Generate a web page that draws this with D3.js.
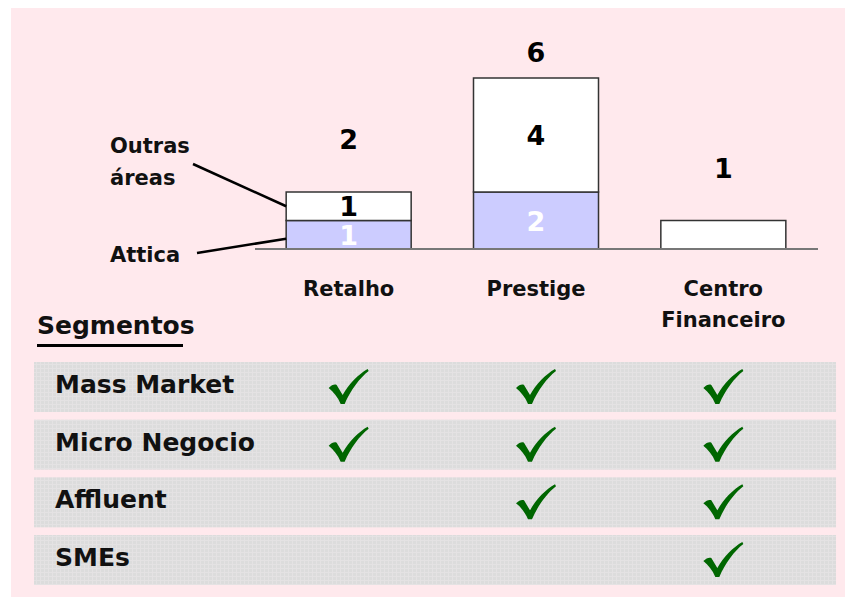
<!DOCTYPE html>
<html><head><meta charset="utf-8">
<script src="https://cdn.jsdelivr.net/npm/d3@7"></script>
<style>html,body{margin:0;padding:0;background:#fff;}svg{display:block;}</style>
</head><body>
<svg id="c" width="845" height="597"></svg>
<script>
const categories = ["Retalho", "Prestige", "Centro Financeiro"];
const attica = [1, 2, 0];
const outras = [1, 4, 1];
const seriesNames = ["Attica", "Outras áreas"];
const segments = ["Mass Market", "Micro Negocio", "Affluent", "SMEs"];
// checks[segment][category]
const checks = [
  [true, true, true],
  [true, true, true],
  [false, true, true],
  [false, false, true]
];

const font = "'DejaVu Sans', Verdana, sans-serif";
const svg = d3.select("#c");
svg.append("rect").attr("x", 11).attr("y", 8).attr("width", 834).attr("height", 589).attr("fill", "#ffe9ed");

const x = d3.scalePoint().domain(categories).range([255, 817]).padding(0.5);
const y = d3.scaleLinear().domain([0, 6]).range([249, 78]);
const barW = 125;

const data = categories.map((c, i) => ({cat: c, a: attica[i], o: outras[i], t: attica[i] + outras[i]}));
const maxT = d3.max(data, d => d.t);

const g = svg.append("g");
// bars
data.forEach(d => {
  const x0 = x(d.cat) - barW / 2;
  if (d.a > 0) {
    g.append("rect").attr("x", x0).attr("y", y(d.a)).attr("width", barW).attr("height", y(0) - y(d.a))
      .attr("fill", "#ccccff").attr("stroke", "#333").attr("stroke-width", 1.5);
  }
  g.append("rect").attr("x", x0).attr("y", y(d.t)).attr("width", barW).attr("height", y(d.a) - y(d.t))
    .attr("fill", "#ffffff").attr("stroke", "#333").attr("stroke-width", 1.5);
});
// baseline
g.append("line").attr("x1", 255).attr("x2", 818).attr("y1", y(0)).attr("y2", y(0))
  .attr("stroke", "#777").attr("stroke-width", 2);

// value labels
data.forEach(d => {
  const cx = x(d.cat);
  const ty = d.t === maxT ? y(d.t) - 16 : y(d.t) - 43;
  g.append("text").attr("x", cx).attr("y", ty).attr("text-anchor", "middle")
    .attr("font-family", font).attr("font-weight", "bold").attr("font-size", 27).attr("fill", "#000").text(d.t);
  if (d.a > 0) {
    g.append("text").attr("x", cx).attr("y", (y(d.a) + y(d.t)) / 2 + 10).attr("text-anchor", "middle")
      .attr("font-family", font).attr("font-weight", "bold").attr("font-size", 27).attr("fill", "#000").text(d.o);
    g.append("text").attr("x", cx).attr("y", (y(0) + y(d.a)) / 2 + 10).attr("text-anchor", "middle")
      .attr("font-family", font).attr("font-weight", "bold").attr("font-size", 27).attr("fill", "#fff").text(d.a);
  }
});

// category labels
categories.forEach(c => {
  const words = c.split(" ");
  const t = g.append("text").attr("x", x(c)).attr("y", 296).attr("text-anchor", "middle")
    .attr("font-family", font).attr("font-weight", "bold").attr("font-size", 21).attr("fill", "#111");
  words.forEach((w, i) => t.append("tspan").attr("x", x(c)).attr("dy", i === 0 ? 0 : 31).text(w));
});

// legend callouts
const r0 = data[0];
const lx = x(r0.cat) - barW / 2;
const lt = g.append("text").attr("x", 110).attr("y", 153).attr("font-family", font).attr("font-weight", "bold")
  .attr("font-size", 21).attr("fill", "#111");
seriesNames[1].split(" ").forEach((w, i) => lt.append("tspan").attr("x", 110).attr("dy", i === 0 ? 0 : 32).text(w));
g.append("text").attr("x", 110).attr("y", 262).attr("font-family", font).attr("font-weight", "bold")
  .attr("font-size", 21).attr("fill", "#111").text(seriesNames[0]);
g.append("line").attr("x1", 193).attr("y1", 164).attr("x2", lx).attr("y2", (y(r0.a) + y(r0.t)) / 2)
  .attr("stroke", "#000").attr("stroke-width", 2.5);
g.append("line").attr("x1", 197).attr("y1", 253).attr("x2", lx).attr("y2", (y(0) + y(r0.a)) / 2 + 4)
  .attr("stroke", "#000").attr("stroke-width", 2.5);

// Segmentos heading
g.append("text").attr("x", 37).attr("y", 334).attr("font-family", font).attr("font-weight", "bold")
  .attr("font-size", 25).attr("fill", "#111").text("Segmentos");
g.append("line").attr("x1", 37).attr("x2", 183).attr("y1", 345.5).attr("y2", 345.5).attr("stroke", "#000").attr("stroke-width", 3);

// table rows
const rowY = d3.scaleBand().domain(segments).range([362, 585]).paddingInner(0.133).paddingOuter(0);
const defs = svg.append("defs");
const pat = defs.append("pattern").attr("id", "gp").attr("width", 4).attr("height", 4).attr("patternUnits", "userSpaceOnUse");
pat.append("rect").attr("width", 4).attr("height", 4).attr("fill", "#dcdcdc");
pat.append("rect").attr("width", 4).attr("height", 1).attr("fill", "#e4e2e3");
pat.append("rect").attr("width", 1).attr("height", 4).attr("fill", "#e4e2e3");

const checkPath = "M0,19 C3,16 6,15 8,16 L14,26 C20,15 30,5 39,0 L40,2 C31,9 22,21 16,35 L12,35 C9,28 5,23 0,19 Z";

segments.forEach((s, i) => {
  const ry = rowY(s), rh = rowY.bandwidth();
  g.append("rect").attr("x", 34).attr("y", ry).attr("width", 802).attr("height", rh).attr("fill", "url(#gp)");
  g.append("text").attr("x", 55).attr("y", ry + rh / 2 + 6).attr("font-family", font).attr("font-weight", "bold")
    .attr("font-size", 25).attr("fill", "#111").text(s);
  categories.forEach((c, j) => {
    if (checks[i][j]) {
      g.append("path").attr("d", checkPath)
        .attr("transform", `translate(${x(c) - 20},${ry + rh / 2 - 18})`)
        .attr("fill", "#006600");
    }
  });
});
</script>
</body></html>
